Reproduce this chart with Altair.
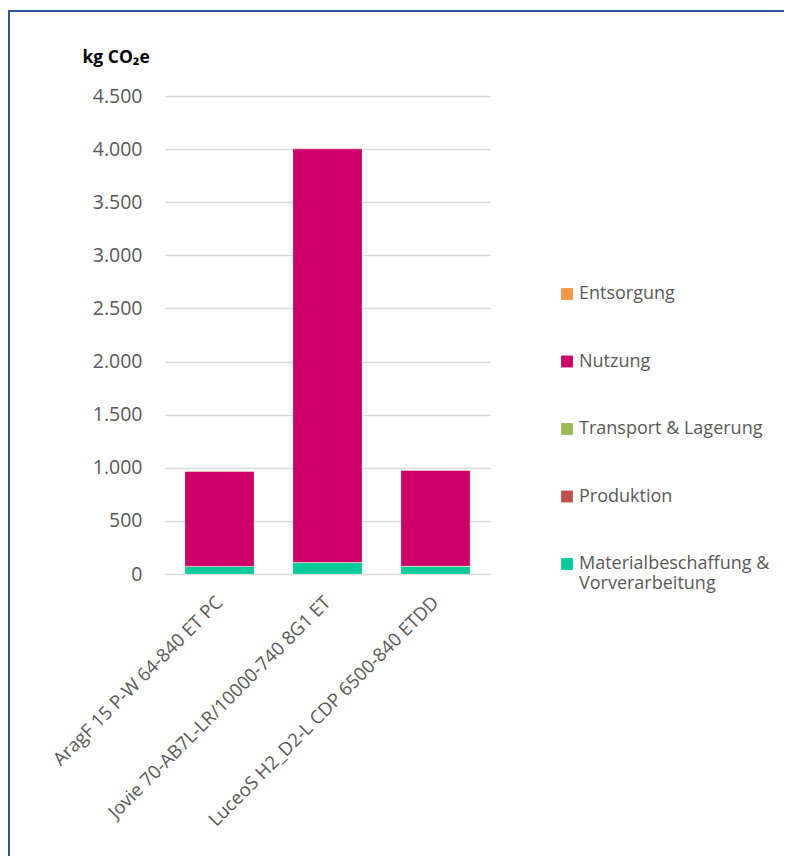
import altair as alt
import pandas as pd

products = ["AragF 15 P-W 64-840 ET PC",
            "Jovie 70-AB7L-LR/10000-740 8G1 ET",
            "LuceoS H2_D2-L CDP 6500-840 ETDD"]
phases = ["Entsorgung", "Nutzung", "Transport & Lagerung", "Produktion",
          "Materialbeschaffung & Vorverarbeitung"]
colors = ["#F79646", "#CC0066", "#9BBB59", "#C0504D", "#00CC99"]
stack_order = [5, 4, 3, 2, 1]

material = [70, 107, 72]
produktion = [2, 2, 2]
transport = [1, 1, 1]
nutzung = [891, 3892, 899]
entsorgung = [3, 3, 3]

series = {
    "Materialbeschaffung & Vorverarbeitung": material,
    "Produktion": produktion,
    "Transport & Lagerung": transport,
    "Nutzung": nutzung,
    "Entsorgung": entsorgung,
}
rows = []
for ph, vals in series.items():
    for p, v in zip(products, vals):
        rows.append({"Produkt": p, "Phase": ph, "Wert": v,
                     "ord": stack_order[phases.index(ph)]})
df = pd.DataFrame(rows)

FONT = "Open Sans"

bars = alt.Chart(df).mark_bar(stroke="#ffffff", strokeWidth=0.4, strokeOpacity=0.5).encode(
    x=alt.X("Produkt:N", sort=products,
            scale=alt.Scale(paddingInner=0.361, paddingOuter=0.185),
            axis=alt.Axis(title=None, labelAngle=-45, labelAlign="right",
                          labelBaseline="middle", labelFontSize=18.5,
                          labelColor="#595959", labelFont=FONT, ticks=False,
                          domain=False, labelPadding=25, labelLimit=400)),
    y=alt.Y("sum(Wert):Q",
            scale=alt.Scale(domain=[0, 4500]),
            axis=alt.Axis(values=list(range(0, 4501, 500)),
                          labelExpr="replace(format(datum.value, ','), ',', '.')",
                          labelFontSize=19.5, labelColor="#595959", labelFont=FONT,
                          labelPadding=23, ticks=False, domain=False,
                          gridColor="#D9D9D9", gridWidth=1.5,
                          title="kg CO₂e", titleAngle=0, titleX=-83, titleY=-39,
                          titleAlign="left", titleBaseline="middle",
                          titleFontSize=17.5, titleFontWeight="bold",
                          titleColor="#000000", titleFont=FONT)),
    color=alt.Color("Phase:N", sort=phases,
                    scale=alt.Scale(domain=phases, range=colors),
                    legend=alt.Legend(title=None, orient="none", legendX=393,
                                      legendY=189, symbolType="square",
                                      symbolSize=140, symbolStrokeWidth=0,
                                      labelFontSize=18, labelColor="#595959",
                                      labelFont=FONT, rowPadding=49.5,
                                      labelLimit=300, labelOffset=3,
                                      labelExpr="datum.label == 'Materialbeschaffung & Vorverarbeitung' ? ['Materialbeschaffung &', 'Vorverarbeitung'] : datum.label")),
    order=alt.Order("ord:Q"),
)

border_df = pd.DataFrame({"k": [0]})
left_border = alt.Chart(border_df).mark_rule(color="#2F5597", strokeWidth=2).encode(
    x=alt.value(-156), y=alt.value(-85), y2=alt.value(320))
left_border2 = alt.Chart(border_df).mark_rule(color="#2F5597", strokeWidth=2).encode(
    x=alt.value(-156), y=alt.value(310), y2=alt.value(780))
top_border = alt.Chart(border_df).mark_rule(color="#2F5597", strokeWidth=2).encode(
    x=alt.value(-157), x2=alt.value(625), y=alt.value(-85))

chart = alt.layer(bars, left_border, left_border2, top_border).properties(
    width=325, height=478,
    background="#ffffff",
    autosize=alt.AutoSizeParams(type="none"),
    padding={"left": 157, "top": 88, "right": 294, "bottom": 282},
).configure_view(stroke=None)

chart.save("out.html", embed_options={"renderer": "svg", "actions": False})
